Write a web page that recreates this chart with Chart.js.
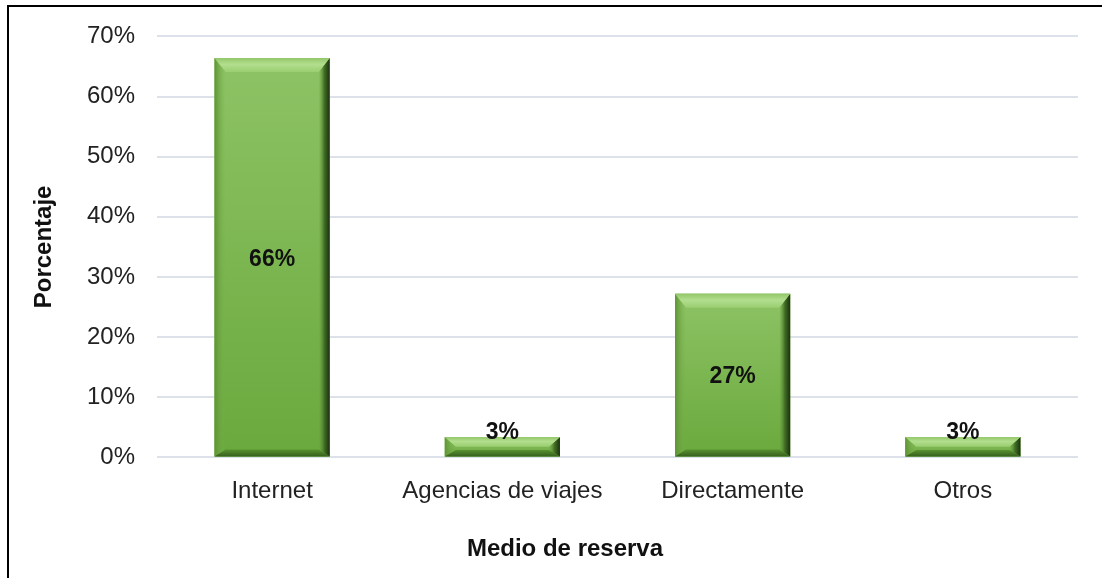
<!DOCTYPE html>
<html>
<head>
<meta charset="utf-8">
<script src="https://cdn.jsdelivr.net/npm/chart.js"></script>
<style>
  body { margin: 0; background: #fff; }
  #wrap { position: relative; width: 1102px; height: 578px; overflow: hidden; }
  #frame { position: absolute; left: 7px; top: 5px; width: 1200px; height: 700px;
           border-left: 2px solid #000; border-top: 2px solid #000; pointer-events: none; }
  canvas { position: absolute; left: 0; top: 0; }
</style>
</head>
<body>
<div id="wrap">
  <canvas id="grafico" width="1102" height="578"></canvas>
  <div id="frame"></div>
</div>
<script>
const categorias = ['Internet', 'Agencias de viajes', 'Directamente', 'Otros'];
const porcentajes = [66.4, 3.4, 27.2, 3.4];
const ticksY = [0, 10, 20, 30, 40, 50, 60, 70];

const fuente = "'Liberation Sans', Arial, sans-serif";

// bordes biselados como en Excel
const bisel = {
  id: 'bisel',
  afterDatasetsDraw(chart) {
    const ctx = chart.ctx;
    chart.getDatasetMeta(0).data.forEach(bar => {
      const p = bar.getProps(['x', 'y', 'base', 'width'], true);
      const l = p.x - p.width / 2, r = p.x + p.width / 2;
      const t = Math.min(p.y, p.base), b = Math.max(p.y, p.base);
      const h = b - t;
      const dt = Math.min(14, h / 2);
      const ds = 11;
      const db = Math.min(7, h / 3);
      const poly = (pts, fill) => {
        ctx.beginPath();
        ctx.moveTo(pts[0][0], pts[0][1]);
        pts.slice(1).forEach(q => ctx.lineTo(q[0], q[1]));
        ctx.closePath();
        ctx.fillStyle = fill;
        ctx.fill();
      };
      ctx.save();
      // cara
      let g = ctx.createLinearGradient(0, t, 0, b);
      g.addColorStop(0, '#8ec365');
      g.addColorStop(1, '#6aa93d');
      poly([[l, t], [r, t], [r, b], [l, b]], g);
      // izquierda
      g = ctx.createLinearGradient(l, 0, l + ds, 0);
      g.addColorStop(0, '#5e9336');
      g.addColorStop(1, 'rgba(120,178,74,0)');
      poly([[l, t], [l + ds, t + dt], [l + ds, b - db], [l, b]], g);
      // derecha
      g = ctx.createLinearGradient(r - ds, 0, r, 0);
      g.addColorStop(0, 'rgba(100,150,60,0)');
      g.addColorStop(0.5, '#426f25');
      g.addColorStop(1, '#1b3010');
      poly([[r, t], [r, b], [r - ds, b - db], [r - ds, t + dt]], g);
      // abajo
      g = ctx.createLinearGradient(0, b - db, 0, b);
      g.addColorStop(0, '#5a9232');
      g.addColorStop(1, '#36601d');
      poly([[l, b], [l + ds, b - db], [r - ds, b - db], [r, b]], g);
      // arriba
      g = ctx.createLinearGradient(0, t, 0, t + dt);
      g.addColorStop(0, '#93c76a');
      g.addColorStop(0.45, '#b2de8d');
      g.addColorStop(1, '#9acd71');
      poly([[l, t], [r, t], [r - ds, t + dt], [l + ds, t + dt]], g);
      ctx.restore();
    });
  }
};

const etiquetas = {
  id: 'etiquetas',
  afterDatasetsDraw(chart) {
    const ctx = chart.ctx;
    ctx.save();
    ctx.font = 'bold 23px ' + fuente;
    ctx.fillStyle = '#111';
    ctx.textAlign = 'center';
    chart.getDatasetMeta(0).data.forEach((bar, i) => {
      const texto = Math.round(porcentajes[i]) + '%';
      const alto = bar.base - bar.y;
      if (alto > 50) {
        ctx.textBaseline = 'middle';
        ctx.fillText(texto, bar.x, bar.y + alto / 2 + 2);
      } else {
        ctx.textBaseline = 'alphabetic';
        ctx.fillText(texto, bar.x, bar.y + 2);
      }
    });
    ctx.restore();
  }
};

new Chart(document.getElementById('grafico'), {
  type: 'bar',
  data: {
    labels: categorias,
    datasets: [{
      label: 'Porcentaje',
      data: porcentajes,
      backgroundColor: '#7cb751',
      borderWidth: 0,
      barPercentage: 0.5,
      categoryPercentage: 1
    }]
  },
  options: {
    responsive: false,
    animation: false,
    devicePixelRatio: 1,
    layout: { padding: { top: 35, left: 52, right: 24, bottom: 0 } },
    plugins: {
      legend: { display: false },
      tooltip: { enabled: false },
      title: {
        display: true,
        position: 'bottom',
        text: 'Medio de reserva',
        color: '#111',
        font: { family: fuente, size: 24, weight: 'bold' },
        padding: { top: 9, bottom: 14 }
      }
    },
    scales: {
      x: {
        grid: { display: false, drawTicks: false },
        border: { display: false },
        ticks: { color: '#222', padding: 20, font: { family: fuente, size: 24 } }
      },
      y: {
        min: 0,
        max: 70,
        afterBuildTicks: s => { s.ticks = ticksY.map(v => ({ value: v })); },
        afterFit: s => { s.width = 105; },
        border: { display: false },
        grid: { color: '#dde1ea', lineWidth: 2, drawTicks: false },
        ticks: { color: '#222', padding: 22, font: { family: fuente, size: 24 }, callback: v => v + '%' },
        title: {
          display: true,
          text: 'Porcentaje',
          color: '#111',
          font: { family: fuente, size: 24, weight: 'bold' },
          padding: { top: -22, bottom: 0 }
        }
      }
    }
  },
  plugins: [bisel, etiquetas]
});
</script>
</body>
</html>
